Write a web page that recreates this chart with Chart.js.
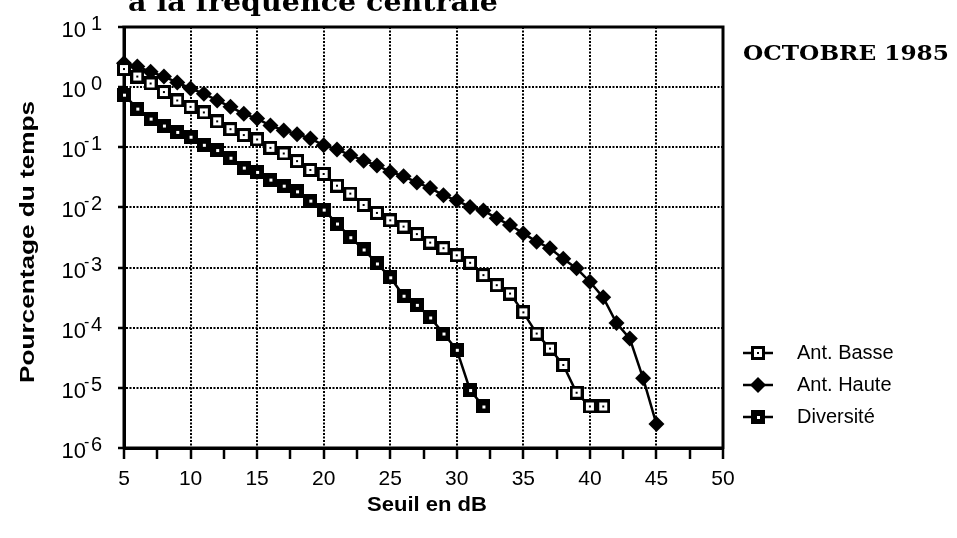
<!doctype html>
<html>
<head>
	<title>Seuil en dB - Octobre 1985</title>
	<script src="https://cdn.jsdelivr.net/npm/chart.js@4/dist/chart.umd.min.js"></script>
	<style>
	html, body { margin: 0; padding: 0; background: #fff; }
	</style>
</head>
<body>
	<canvas id="canvas" width="957" height="538"></canvas>
	<script>
		// seuils en dB (abscisses des points)
		const seuils = [5, 6, 7, 8, 9, 10, 11, 12, 13, 14, 15, 16, 17, 18, 19, 20, 21, 22, 23, 24, 25,
			26, 27, 28, 29, 30, 31, 32, 33, 34, 35, 36, 37, 38, 39, 40, 41, 42, 43, 44, 45];

		// pourcentage du temps
		const antBasse = [2.0, 1.5, 1.15, 0.83, 0.6, 0.47, 0.38, 0.27, 0.20, 0.16, 0.135, 0.098, 0.079,
			0.059, 0.042, 0.036, 0.023, 0.017, 0.011, 0.0081, 0.0061, 0.0048, 0.0036, 0.0026, 0.0021,
			0.0016, 0.0012, 0.00075, 0.00051, 0.00037, 0.00018, 0.00008, 0.000045, 0.000024,
			0.0000083, 0.0000049, 0.0000049];
		const antHaute = [2.5, 2.2, 1.8, 1.5, 1.2, 0.95, 0.78, 0.6, 0.47, 0.36, 0.30, 0.23, 0.19, 0.165,
			0.14, 0.108, 0.092, 0.074, 0.060, 0.050, 0.039, 0.033, 0.026, 0.021, 0.016, 0.013, 0.0102,
			0.0089, 0.0066, 0.0051, 0.0037, 0.0027, 0.0021, 0.0014, 0.00097, 0.00058, 0.00032,
			0.00012, 0.000066, 0.0000144, 0.0000025];
		const diversite = [0.75, 0.44, 0.30, 0.23, 0.18, 0.15, 0.11, 0.09, 0.067, 0.046, 0.039, 0.029,
			0.023, 0.0185, 0.013, 0.0092, 0.0054, 0.0032, 0.002, 0.00117, 0.00069, 0.00034, 0.00024,
			0.000148, 0.00008, 0.000043, 0.0000092, 0.0000049];

		const yTicks = [1e1, 1e0, 1e-1, 1e-2, 1e-3, 1e-4, 1e-5, 1e-6];
		const yExposants = ['1', '0', '-1', '-2', '-3', '-4', '-5', '-6'];
		const legende = ['Ant. Basse', 'Ant. Haute', 'Diversité'];

		function pts(vals) {
			return vals.map((v, i) => ({x: seuils[i], y: v}));
		}

		// marqueurs dessinés sur de petits canvas
		function carreBasse() {
			const c = document.createElement('canvas');
			c.width = c.height = 14;
			const g = c.getContext('2d');
			g.fillStyle = '#000'; g.fillRect(0, 0, 14, 14);
			g.fillStyle = '#fff'; g.fillRect(3, 3, 8, 8);
			g.fillStyle = '#000'; g.fillRect(6, 6, 2, 2);
			return c;
		}
		function carreDiv() {
			const c = document.createElement('canvas');
			c.width = c.height = 14;
			const g = c.getContext('2d');
			g.fillStyle = '#000'; g.fillRect(0, 0, 14, 14);
			g.fillStyle = '#fff'; g.fillRect(6, 6, 3, 3);
			return c;
		}
		const mBasse = carreBasse();
		const mDiv = carreDiv();

		const textes = {
			id: 'textes',
			beforeDatasetsDraw(chart) {
				const {ctx, chartArea: a} = chart;
				ctx.save();
				ctx.strokeStyle = '#000';
				ctx.lineWidth = 3;
				ctx.strokeRect(a.left, a.top, a.right - a.left, a.bottom - a.top);
				ctx.restore();
			},
			afterDraw(chart) {
				const {ctx} = chart;
				const y = chart.scales.y;
				ctx.save();
				ctx.fillStyle = '#000';

				// graduations 10^n
				yTicks.forEach((v, i) => {
					const py = y.getPixelForValue(v);
					ctx.font = '22px "Liberation Sans", Arial, sans-serif';
					ctx.textAlign = 'right';
					ctx.textBaseline = 'alphabetic';
					ctx.fillText('10', 86, py + 10);
					let e = yExposants[i];
					ctx.textAlign = 'left';
					if (e[0] === '-') {
						ctx.font = '16px "Liberation Sans", Arial, sans-serif';
						ctx.fillText('-', 84, py - 1);
						e = e.slice(1);
					}
					ctx.font = '20px "Liberation Sans", Arial, sans-serif';
					ctx.fillText(e, 91, py + 3);
				});

				// titre (coupé en haut)
				ctx.font = 'bold 26px "DejaVu Serif", serif';
				ctx.textAlign = 'left';
				let t = 'à la fréquence centrale';
				let w = ctx.measureText(t).width;
				ctx.save();
				ctx.translate(128, 11);
				ctx.scale(370 / w, 1);
				ctx.fillText(t, 0, 0);
				ctx.restore();

				ctx.font = 'bold 20px "DejaVu Serif", serif';
				t = 'OCTOBRE 1985';
				w = ctx.measureText(t).width;
				ctx.save();
				ctx.translate(743, 55);
				ctx.scale(206 / w, 1);
				ctx.textBaseline = 'middle';
				ctx.fillText(t, 0, 0);
				ctx.restore();

				// titres des axes
				ctx.font = 'bold 20px "Liberation Sans", Arial, sans-serif';
				ctx.textAlign = 'center';
				ctx.textBaseline = 'middle';
				t = 'Pourcentage du temps';
				w = ctx.measureText(t).width;
				ctx.save();
				ctx.translate(28, 242);
				ctx.rotate(-Math.PI / 2);
				ctx.scale(282 / w, 1);
				ctx.fillText(t, 0, 0);
				ctx.restore();

				t = 'Seuil en dB';
				w = ctx.measureText(t).width;
				ctx.save();
				ctx.translate(427, 505);
				ctx.scale(120 / w, 1);
				ctx.fillText(t, 0, 0);
				ctx.restore();

				// légende
				const rows = [353, 385, 417];
				chart.data.datasets.forEach((ds, i) => {
					const ry = rows[i];
					ctx.strokeStyle = '#000';
					ctx.lineWidth = 2.5;
					ctx.beginPath();
					ctx.moveTo(743, ry);
					ctx.lineTo(773, ry);
					ctx.stroke();
					if (ds.pointStyle === 'rectRot') {
						ctx.beginPath();
						ctx.moveTo(758, ry - 8);
						ctx.lineTo(766, ry);
						ctx.lineTo(758, ry + 8);
						ctx.lineTo(750, ry);
						ctx.closePath();
						ctx.fill();
					} else {
						const m = ds.pointStyle;
						ctx.drawImage(m, 758 - m.width / 2, ry - m.height / 2);
					}
					ctx.font = '20px "Liberation Sans", Arial, sans-serif';
					ctx.textAlign = 'left';
					ctx.textBaseline = 'middle';
					ctx.fillText(legende[i], 797, ry);
				});
				ctx.restore();
			}
		};

		const ctx = document.getElementById('canvas').getContext('2d');
		window.myChart = new Chart(ctx, {
			type: 'line',
			data: {
				datasets: [{
					label: legende[0],
					data: pts(antBasse),
					borderColor: '#000',
					borderWidth: 2.5,
					pointStyle: mBasse,
					tension: 0,
					clip: false
				}, {
					label: legende[1],
					data: pts(antHaute),
					borderColor: '#000',
					backgroundColor: '#000',
					borderWidth: 2.5,
					pointStyle: 'rectRot',
					pointRadius: 8,
					pointBorderWidth: 0,
					tension: 0,
					clip: false
				}, {
					label: legende[2],
					data: pts(diversite),
					borderColor: '#000',
					borderWidth: 2.5,
					pointStyle: mDiv,
					tension: 0,
					clip: false
				}]
			},
			options: {
				responsive: false,
				animation: false,
				devicePixelRatio: 1,
				layout: {padding: {left: 0, top: 27, right: 234, bottom: 0}},
				plugins: {
					legend: {display: false},
					tooltip: {enabled: false}
				},
				scales: {
					x: {
						type: 'linear',
						min: 5,
						max: 50,
						afterFit: s => { s.height = 90; },
						ticks: {
							stepSize: 2.5,
							autoSkip: false,
							maxRotation: 0,
							padding: 8,
							color: '#000',
							font: {size: 21, family: '"Liberation Sans", Arial, sans-serif'},
							callback: v => (v % 5 === 0 ? String(v) : '')
						},
						grid: {
							color: c => (c.tick && c.tick.value % 5 === 0 ? '#000' : 'rgba(0,0,0,0)'),
							tickColor: '#000',
							lineWidth: 2,
							tickWidth: 2.5,
							tickLength: 11
						},
						border: {display: true, color: '#000', width: 3, dash: [2, 1.5]}
					},
					y: {
						type: 'logarithmic',
						min: 1e-6,
						max: 10,
						afterFit: s => { s.width = 124; },
						afterBuildTicks: s => { s.ticks = yTicks.map(v => ({value: v})); },
						ticks: {display: false},
						grid: {
							color: '#000',
							tickColor: '#000',
							lineWidth: 2,
							tickWidth: 2.5,
							tickLength: 6
						},
						border: {display: true, color: '#000', width: 3, dash: [2, 1.5]}
					}
				}
			},
			plugins: [textes]
		});
	</script>
</body>
</html>
